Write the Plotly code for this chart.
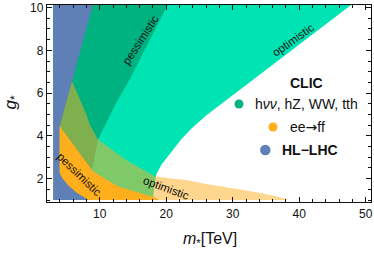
import plotly.graph_objects as go

# ---- scan domain (m* in TeV, g*) ----
m_min = 3.0
g_min = 1.0
g_max = 10.12

# ---- exclusion boundaries ----
# HL-LHC
hl_m = [8.3, 6.5, 5.2, 4.3, 3.95, 3.95, 8.97]
hl_g = [1.0, 1.35, 1.7, 2.05, 2.3, 4.4, 10.12]

# CLIC  h nu nu, hZ, WW, tth  -- pessimistic
hig_pess_m = [8.4, 8.5, 8.75, 9.74, 11.0, 12.5, 14.5, 16.8, 19.0, 20.2]
hig_pess_g = [1.0, 1.5, 2.28, 3.83, 4.6, 5.56, 6.64, 8.05, 9.45, 10.12]

# CLIC  h nu nu, hZ, WW, tth  -- optimistic
hig_opt_m = [18.0, 18.2, 18.5, 19.3, 20.8, 22.3, 23.8, 26.0, 30.0, 37.1, 42.0, 47.8]
hig_opt_g = [1.0, 1.6, 2.19, 2.66, 3.28, 3.85, 4.35, 4.95, 5.9, 7.6, 8.75, 10.12]

# CLIC  ee -> ff  -- optimistic
ff_opt_m = [38.5, 36.5, 34.0, 30.0, 26.0, 22.8, 21.0, 18.3, 14.26, 9.74, 8.5, 8.0, 5.9, 5.5]
ff_opt_g = [1.0, 1.18, 1.34, 1.55, 1.75, 1.95, 2.0, 2.11, 2.81, 3.83, 4.53, 5.0, 6.5, 6.8]

# CLIC  ee -> ff  -- pessimistic
ff_pess_m = [19.0, 18.27, 12.75, 9.0, 6.74, 3.98]
ff_pess_g = [1.0, 1.12, 1.64, 2.34, 3.28, 4.45]

# legend entries
legend_title = "CLIC"
legend_labels = ["h<i>νν</i>, hZ, WW, tth",
                 "ee<span style='font-family:DejaVu Sans'>→</span>ff",
                 "<b>HL−LHC</b>"]

C_TEAL = "rgb(0,228,180)"
C_DKGREEN = "rgb(0,178,128)"
C_ORANGE = "rgb(255,174,28)"
C_ORANGE_T = "rgba(255,174,28,0.5)"
C_BLUE = "rgb(94,128,182)"


def region(bm, bg):
    xs = [m_min] + list(bm) + [m_min]
    ys = [bg[0]] + list(bg) + [bg[-1]]
    return xs, ys


fig = go.Figure()
for bm, bg, col in [
    (hig_opt_m, hig_opt_g, C_TEAL),
    (hig_pess_m, hig_pess_g, C_DKGREEN),
    (ff_opt_m, ff_opt_g, C_ORANGE_T),
    (ff_pess_m, ff_pess_g, C_ORANGE),
    (hl_m, hl_g, C_BLUE),
]:
    xs, ys = region(bm, bg)
    fig.add_trace(go.Scatter(x=xs, y=ys, mode="lines", fill="toself",
                             fillcolor=col, line=dict(width=0, color=col),
                             hoverinfo="skip", showlegend=False))

FONT = "Liberation Sans, Arial, sans-serif"

# in-plot labels
for txt, x, y, ang in [
    ("pessimistic", 16.1, 8.5, -56.7),
    ("optimistic", 39.07, 8.49, -35.3),
    ("pessimistic", 6.86, 2.21, 44),
    ("optimistic", 20.0, 1.56, 20),
]:
    fig.add_annotation(x=x, y=y, xref="x", yref="y", text=txt, showarrow=False,
                       xanchor="center", yanchor="middle",
                       textangle=ang, font=dict(family=FONT, size=11.5, color="#111"))

# plot area in pixels
L, R, T, B = 47, 371, 5, 202
PW, PH = R - L, B - T


def px(xp):
    return (xp - L) / PW


def py(yp):
    return (B - yp) / PH


# legend
fig.add_annotation(x=px(306), y=py(83), xref="paper", yref="paper", text="<b>CLIC</b>",
                   showarrow=False, xanchor="center", yanchor="middle",
                   font=dict(family=FONT, size=14, color="#111"))
leg = [
    (239, 104, 9, C_DKGREEN, 253, legend_labels[0]),
    (273, 127, 9, C_ORANGE, 288, legend_labels[1]),
    (265.3, 150, 10.5, C_BLUE, 279.5, legend_labels[2]),
]
for cx, cy, d, col, tx, lab in leg:
    fig.add_shape(type="circle", xref="paper", yref="paper", xsizemode="pixel",
                  ysizemode="pixel", xanchor=px(cx), yanchor=py(cy),
                  x0=-d / 2, x1=d / 2, y0=-d / 2, y1=d / 2,
                  fillcolor=col, line=dict(width=0))
    fig.add_annotation(x=px(tx), y=py(cy), xref="paper", yref="paper", text=lab,
                       xanchor="left", yanchor="middle", showarrow=False,
                       font=dict(family=FONT, size=14, color="#111"))

# axis titles
fig.add_annotation(x=px(11.5), y=py(103), xref="paper", yref="paper",
                   text="<i>g</i><sub>*</sub>", textangle=-90, showarrow=False,
                   xanchor="center", yanchor="middle",
                   font=dict(family=FONT, size=17, color="#111"))
fig.add_annotation(x=px(210), y=py(239), xref="paper", yref="paper",
                   text="<i>m</i><sub>*</sub>[TeV]", showarrow=False,
                   xanchor="center", yanchor="middle",
                   font=dict(family=FONT, size=16, color="#111"))

axis_common = dict(showline=True, linecolor="#111", linewidth=1.3, mirror="ticks",
                   ticks="inside", tickcolor="#111", tickwidth=1, ticklen=5,
                   showgrid=False, zeroline=False, automargin=False,
                   tickfont=dict(family=FONT, size=12, color="#111"))
fig.update_xaxes(range=[2.07, 50.8], tick0=0, dtick=10,
                 minor=dict(ticks="inside", ticklen=3, dtick=2, tick0=0,
                            tickcolor="#111", tickwidth=1, showgrid=False),
                 **axis_common)
fig.update_yaxes(range=[0.91, 10.12], tick0=0, dtick=2,
                 minor=dict(ticks="inside", ticklen=3, dtick=0.5, tick0=0,
                            tickcolor="#111", tickwidth=1, showgrid=False),
                 **axis_common)

fig.update_layout(width=374, height=253, margin=dict(l=L, r=374 - R, t=T, b=253 - B),
                  paper_bgcolor="white", plot_bgcolor="white", showlegend=False)
fig.write_html("out.html", config={"displayModeBar": False},
               post_script="document.body.style.margin='0';document.body.style.overflow='hidden';")
